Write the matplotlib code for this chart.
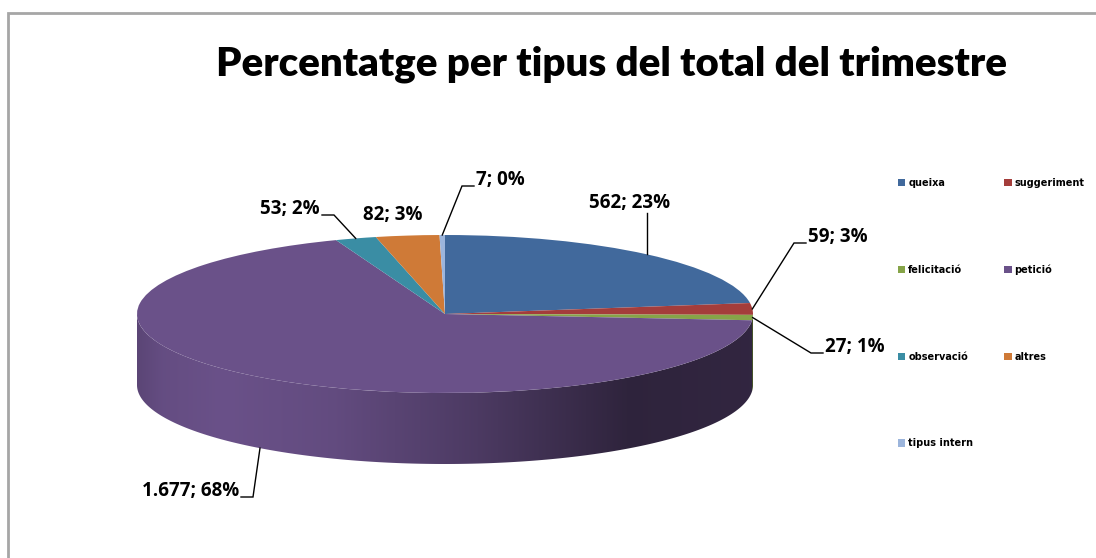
import numpy as np
import matplotlib
matplotlib.use("Agg")
import matplotlib.pyplot as plt
from matplotlib.transforms import Affine2D
from matplotlib.patches import Polygon, Rectangle, Patch
from matplotlib.colors import to_rgb

# ---------------- data ----------------
categories = ["queixa", "suggeriment", "felicitació", "petició",
              "observació", "altres", "tipus intern"]
values = [562, 59, 27, 1677, 53, 82, 7]
value_labels = ["562; 23%", "59; 3%", "27; 1%", "1.677; 68%",
                "53; 2%", "82; 3%", "7; 0%"]
colors = ["#41699c", "#a43d3b", "#86a448", "#6a5189",
          "#3a8da4", "#cf7a37", "#9cb5dc"]
title = "Percentatge per tipus del total del trimestre"

# ---------------- layout (pixel coordinates) ----------------
W, H = 1096, 558
CX, CY = 445, 314      # centre of the top face
A, B = 308, 79         # ellipse semi-axes
D = 71                 # pie thickness

fig = plt.figure(figsize=(W / 100, H / 100), dpi=100)
fig.patch.set_facecolor("white")
ax = fig.add_axes([0, 0, 1, 1])

# top face through the library's pie, then projected to an ellipse
wedges, _ = ax.pie(values, startangle=90, counterclock=False, colors=colors,
                   radius=1.0, center=(0, 0),
                   wedgeprops=dict(linewidth=0, antialiased=True))
proj = Affine2D().scale(A, -B).translate(CX, CY)
for w in wedges:
    w.set_transform(proj + ax.transData)
    w.set_zorder(5)


def shade(u):
    # lighting factor across the side, u = 0 (left) .. 1 (right)
    pts_u = [0.0, 0.04, 0.14, 0.32, 0.55, 0.80, 1.0]
    pts_f = [0.86, 0.95, 1.0, 0.93, 0.72, 0.44, 0.47]
    return np.interp(u, pts_u, pts_f)


# side of the cylinder (front half only), derived from the wedge angles
ucols = np.linspace(0, 1, 400)
for w, c in zip(wedges, colors):
    t1, t2 = w.theta1, w.theta2
    base = np.array(to_rgb(c))
    for off in (-360, 0, 360):
        lo, hi = max(t1 + off, 180), min(t2 + off, 360)
        if hi <= lo:
            continue
        angs = np.radians(np.linspace(lo, hi, 200))
        xs = CX + A * np.cos(angs)
        ys = CY - B * np.sin(angs)
        pts = np.concatenate([np.column_stack([xs, ys]),
                              np.column_stack([xs[::-1], ys[::-1] + D])])
        poly = Polygon(pts, closed=True, facecolor="none", edgecolor="none")
        ax.add_patch(poly)
        grad = np.clip(base[None, None, :] * shade(ucols)[None, :, None], 0, 1)
        im = ax.imshow(grad, extent=(CX - A, CX + A, CY + B + D + 2, CY - B - 2),
                       aspect="auto", interpolation="bilinear", zorder=3)
        im.set_clip_path(poly)

ax.set_aspect("auto")
ax.set_xlim(0, W)
ax.set_ylim(H, 0)
ax.axis("off")

# ---------------- data labels with leader lines ----------------
label_layout = [
    (630, 203, "center", "vertical"),   # queixa
    (808, 237, "left", "elbow"),        # suggeriment
    (825, 347, "left", "elbow"),        # felicitació
    (239, 491, "right", "elbow"),       # petició
    (320, 209, "right", "elbow"),       # observació
    (393, 215, "center", None),         # altres
    (476, 180, "left", "elbow"),        # tipus intern
]
lab_font = dict(family=["Liberation Sans Narrow", "Open Sans", "DejaVu Sans"],
                fontweight="bold", fontsize=13.5, color="black")

for w, txt, (tx, ty, ha, style) in zip(wedges, value_labels, label_layout):
    mid = np.radians((w.theta1 + w.theta2) / 2)
    axp = CX + A * np.cos(mid)
    ayp = CY - B * np.sin(mid)
    if np.sin(mid) < -0.5:
        ayp += D
    ax.text(tx, ty, txt, ha=ha, va="center", zorder=10, **lab_font)
    if style == "vertical":
        ax.plot([axp, axp], [ayp, ty + 10], color="black", lw=1.0, zorder=9)
    elif style == "elbow":
        ly = ty + 6
        if ha == "left":
            ex, ex2 = tx - 14, tx - 2
        else:
            ex, ex2 = tx + 14, tx + 2
        ax.plot([axp, ex, ex2], [ayp, ly, ly], color="black", lw=1.0,
                zorder=9, solid_joinstyle="miter")

# ---------------- title ----------------
t = ax.text(612, 64, title, ha="center", va="center",
            family=["Liberation Sans Narrow", "Lato", "DejaVu Sans"],
            fontweight="heavy", fontsize=26, color="black", zorder=10)
fig.canvas.draw()
bb = t.get_window_extent()
t.set_fontsize(26 * 790 / bb.width)

# ---------------- legend ----------------
order = [0, 2, 4, 6, 1, 3, 5]
handles = [Patch(facecolor=colors[i], edgecolor="none") for i in order]
labels = [categories[i] for i in order]
leg = ax.legend(handles, labels, ncol=2, loc="upper left",
                bbox_to_anchor=(898 / W, 1 - 178 / H),
                bbox_transform=fig.transFigure, frameon=False,
                prop=dict(family=["Liberation Sans Narrow", "DejaVu Sans"],
                          weight="bold", size=7),
                handlelength=0.75, handleheight=0.75, handletextpad=0.3,
                labelspacing=7.9, columnspacing=3.2, borderaxespad=0,
                borderpad=0)

# ---------------- outer border (only left and top edges visible) ----------------
ax.plot([8, 8, W + 10], [H + 10, 13, 13], color="#a6a6a6", lw=2,
        solid_joinstyle="miter", zorder=1, clip_on=False)

fig.savefig("out.png", dpi=100, facecolor="white")
